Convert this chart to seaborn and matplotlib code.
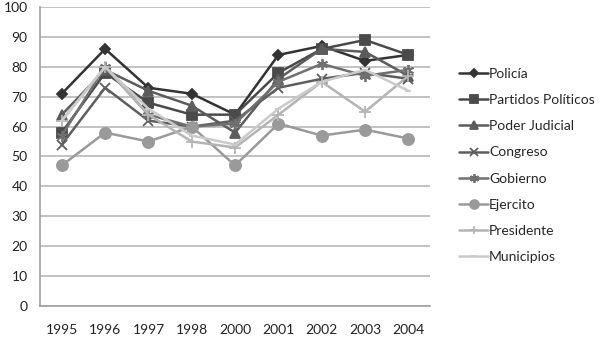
import numpy as np
import pandas as pd
import matplotlib
matplotlib.use("Agg")
import matplotlib.pyplot as plt
import seaborn as sns

years = ["1995", "1996", "1997", "1998", "2000", "2001", "2002", "2003", "2004"]

policia = [71, 86, 73, 71, 64, 84, 87, 82, 84]
partidos = [58, 78, 68, 64, 64, 78, 86, 89, 84]
poder_judicial = [64, 79, 72, 67, 58, 76, 86, 85, 77]
congreso = [54, 73, 62, 60, 62, 73, 76, 78, 76]
gobierno = [57, 80, 64, 60, 61, 75, 81, 77, 79]
ejercito = [47, 58, 55, 60, 47, 61, 57, 59, 56]
presidente = [62, 80, 64, 55, 53, 64, 75, 65, 77]
municipios = [62, 80, 66, 57, 54, 66, 75, 79, 72]

names = ["Policía", "Partidos Políticos", "Poder Judicial", "Congreso",
         "Gobierno", "Ejercito", "Presidente", "Municipios"]
series = [policia, partidos, poder_judicial, congreso, gobierno,
          ejercito, presidente, municipios]

colors = {"Policía": "#333333", "Partidos Políticos": "#4a4a4a",
          "Poder Judicial": "#5c5c5c", "Congreso": "#5e5e5e",
          "Gobierno": "#707070", "Ejercito": "#9a9a9a",
          "Presidente": "#b4b4b4", "Municipios": "#cacaca"}
markers = {"Policía": "D", "Partidos Políticos": "s", "Poder Judicial": "^",
           "Congreso": "x", "Gobierno": (6, 2, 0), "Ejercito": "o",
           "Presidente": "+", "Municipios": "_"}
sizes = {"Policía": 5, "Partidos Políticos": 7, "Poder Judicial": 7,
         "Congreso": 7, "Gobierno": 8, "Ejercito": 8,
         "Presidente": 8, "Municipios": 5}

df = pd.DataFrame({
    "year": np.tile(years, len(names)),
    "value": np.concatenate(series),
    "serie": np.repeat(names, len(years)),
})

sns.set_style("white")
plt.rcParams["font.family"] = ["Lato", "DejaVu Sans"]

fig = plt.figure(figsize=(5.99, 3.38), dpi=100)
ax = fig.add_axes([0.067, 0.095, 0.651, 0.884])

for name in names:
    sub = df[df["serie"] == name]
    sns.lineplot(data=sub, x="year", y="value", ax=ax, color=colors[name],
                 marker=markers[name], markersize=sizes[name],
                 markeredgecolor=colors[name], markeredgewidth=1.3,
                 linewidth=1.8, label=name, sort=False)

ax.set_xlim(-0.5, len(years) - 0.5)
ax.set_ylim(0, 100)
ax.set_yticks(range(0, 101, 10))
ax.yaxis.grid(True, color="#b8b8b8", linewidth=1.2)
ax.set_axisbelow(True)
ax.set_xlabel("")
ax.set_ylabel("")
ax.set_xticks(range(len(years)))
ax.set_xticklabels(years)
ax.set_xticks(np.arange(-0.5, len(years), 1), minor=True)
ax.tick_params(axis="x", which="major", length=0, pad=13, labelsize=10)
ax.tick_params(axis="x", which="minor", length=5, color="#a0a0a0",
               direction="out", width=1)
ax.tick_params(axis="y", length=5, color="#a0a0a0", direction="out",
               labelsize=10, pad=4)
for lbl in ax.get_xticklabels() + ax.get_yticklabels():
    lbl.set_color("#222222")
for s in ["top", "right"]:
    ax.spines[s].set_visible(False)
for s in ["left", "bottom"]:
    ax.spines[s].set_color("#a0a0a0")
    ax.spines[s].set_linewidth(1.2)

ax.legend(loc="center left", bbox_to_anchor=(1.075, 0.47), frameon=False,
          fontsize=10, labelspacing=1.02, handlelength=2.1, handletextpad=0.05,
          borderaxespad=0, borderpad=0, markerscale=0.8)

fig.savefig("out.png", dpi=100)
